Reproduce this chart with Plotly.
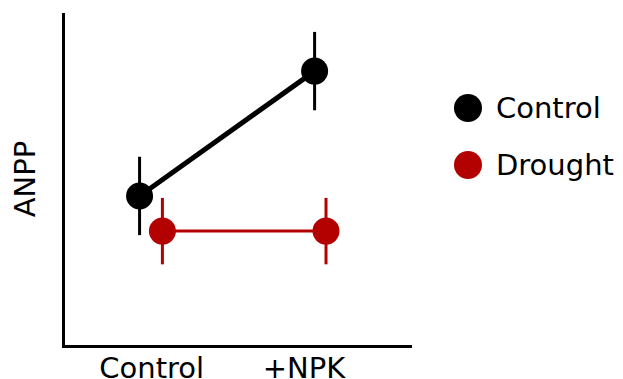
import plotly.graph_objects as go

categories = ["Control", "+NPK"]
series_names = ["Control", "Drought"]
control_anpp = [4.49, 8.25]
control_err = [1.18, 1.18]
drought_anpp = [3.43, 3.43]
drought_err = [1.0, 1.0]

colors = {"Control": "#000000", "Drought": "#b30000"}
base_x = [1, 2]
offsets = {"Control": [-0.08, 0.07], "Drought": [0.07, 0.145]}

fig = go.Figure()
for name, vals, errs, lw in [("Control", control_anpp, control_err, 5),
                             ("Drought", drought_anpp, drought_err, 3)]:
    fig.add_trace(go.Scatter(
        x=[b + o for b, o in zip(base_x, offsets[name])], y=vals, name=name,
        mode="lines+markers",
        line=dict(color=colors[name], width=lw),
        marker=dict(color=colors[name], size=27),
        error_y=dict(type="data", array=errs, color=colors[name], thickness=3, width=0),
        showlegend=False,
    ))

# manual legend (paper coordinates relative to plot area 65..412 x, 13..345 y)
PW, PH = 347, 332
for i, name in enumerate(series_names):
    cy = 108 + 57 * i
    fig.add_shape(type="circle", xref="paper", yref="paper",
                  x0=(468 - 14 - 65) / PW, x1=(468 + 14 - 65) / PW,
                  y0=(345 - cy - 14) / PH, y1=(345 - cy + 14) / PH,
                  fillcolor=colors[name], line=dict(width=0))
    fig.add_annotation(xref="paper", yref="paper", x=(494 - 65) / PW,
                       y=(345 - cy) / PH, text=name, showarrow=False,
                       xanchor="left", yanchor="middle",
                       font=dict(size=29, color="#000000"))

fig.update_layout(
    width=623, height=379,
    margin=dict(l=65, r=211, t=13, b=34),
    paper_bgcolor="white", plot_bgcolor="white",
    font=dict(family="DejaVu Sans", size=29, color="#000000"),
    xaxis=dict(range=[0.43, 2.71], tickvals=base_x, ticktext=categories,
               showgrid=False, zeroline=False, showline=True, linecolor="black",
               linewidth=3, ticks="", tickfont=dict(size=29), automargin=False,
               ticklabelstandoff=-5),
    yaxis=dict(range=[0, 10], showticklabels=False, showgrid=False, zeroline=False,
               showline=True, linecolor="black", linewidth=3, ticks="",
               automargin=False,
               title=dict(text="ANPP", font=dict(size=29), standoff=18)),
)

fig.write_html("out.html", config={"displayModeBar": False},
               post_script="document.body.style.margin='0px';document.body.style.overflow='hidden';")
